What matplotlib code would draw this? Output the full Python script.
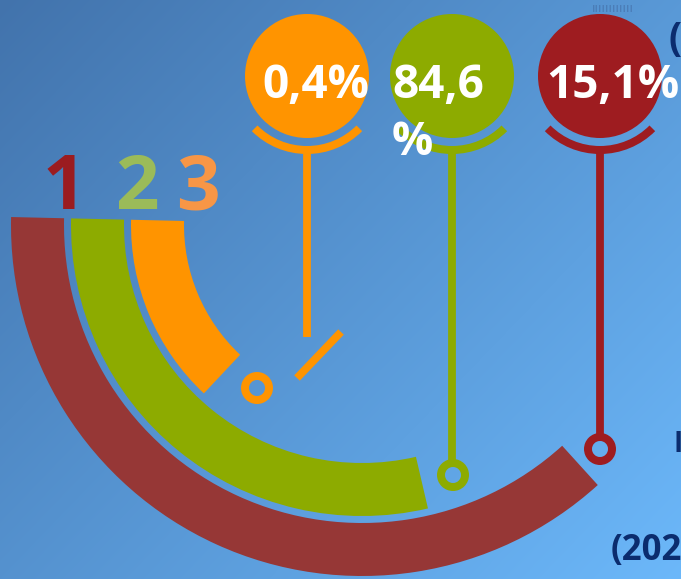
import numpy as np
import matplotlib
matplotlib.use("Agg")
import matplotlib.pyplot as plt
from matplotlib.patches import Wedge, Circle

# ---- data ----
categories = ["1", "2", "3"]
values = [15.1, 84.6, 0.4]
value_labels = ["15,1%", "84,6\n%", "0,4%"]
arc_colors = ["#963736", "#8DAB00", "#FF9400"]
bubble_colors = ["#9E1C20", "#8DAB00", "#FF9400"]
number_colors = ["#9B1C20", "#9BBB59", "#F79646"]

W, H = 681, 579
fig = plt.figure(figsize=(W / 100, H / 100), dpi=100)
ax = fig.add_axes([0, 0, 1, 1])
ax.set_xlim(0, W)
ax.set_ylim(H, 0)
ax.axis("off")

# background gradient
yy, xx = np.mgrid[0:H, 0:W]
t = 0.55 * xx / W + 0.45 * yy / H
c0 = np.array([66, 115, 172]) / 255
c1 = np.array([108, 184, 250]) / 255
img = c0[None, None, :] * (1 - t[..., None]) + c1[None, None, :] * t[..., None]
ax.imshow(img, extent=[0, W, H, 0], aspect="auto", zorder=0)

# concentric arcs
cx, cy = 362, 225
outer_r = [351, 291, 231]
band_w = 53
end_angles = [47.8, 76.9, 133.2]
start_angle = 181.3
for i in range(len(categories)):
    ax.add_patch(Wedge((cx, cy), outer_r[i], end_angles[i], start_angle,
                       width=band_w, facecolor=arc_colors[i], edgecolor="none", zorder=2))

# numbers above arcs
num_x = [64, 137, 198]
for i, c in enumerate(categories):
    ax.text(num_x[i], 209, c, color=number_colors[i], fontsize=55, fontweight="bold",
            family="Open Sans", ha="center", va="baseline", zorder=3)

# pins
pin_x = [600, 452, 307]
bub_y = 76
bub_r = 62
ring_pos = [(600, 449), (453, 475), (257, 388)]
label_x = [546, 392, 262]
lw = 5.6
for i in range(len(categories)):
    col = bubble_colors[i]
    px = pin_x[i]
    ax.add_patch(Circle((px, bub_y), bub_r, facecolor=col, edgecolor="none", zorder=3))
    ax.add_patch(Wedge((px, bub_y), 78, 45, 135, width=8, facecolor=col,
                       edgecolor="none", zorder=3))
    rx, ry = ring_pos[i]
    if i == 2:
        ax.plot([px, px], [152, 337], color=col, lw=lw, solid_capstyle="butt", zorder=3)
        ax.plot([297, 341], [378, 332], color=col, lw=lw, solid_capstyle="butt", zorder=3)
    else:
        ax.plot([px, px], [152, ry - 15], color=col, lw=lw, solid_capstyle="butt", zorder=3)
    ax.add_patch(Wedge((rx, ry), 16, 0, 360, width=8, facecolor=col,
                       edgecolor="none", zorder=3))
    for k, line in enumerate(value_labels[i].split("\n")):
        ax.text(label_x[i], 98 + 57 * k, line, color="white", fontsize=33,
                fontweight="bold", family="Open Sans", ha="left", va="baseline",
                zorder=4)

# cut-off side texts
navy = "#0B2C6E"
ax.text(668, 50, "(", color=navy, fontsize=28, fontweight="bold",
        family="Open Sans", ha="left", va="baseline", zorder=4)
ax.text(611, 560, "(202", color=navy, fontsize=25, fontweight="bold",
        family="Open Sans", ha="left", va="baseline", zorder=4)
ax.text(673, 452, "I", color=navy, fontsize=20, fontweight="bold",
        family="Open Sans", ha="left", va="baseline", zorder=4)
ax.text(592, 2, "ıııııııııııı", color="#3c5f95", fontsize=9, alpha=0.5,
        family="DejaVu Sans", ha="left", va="top", zorder=1)

fig.savefig("out.png", dpi=100)
